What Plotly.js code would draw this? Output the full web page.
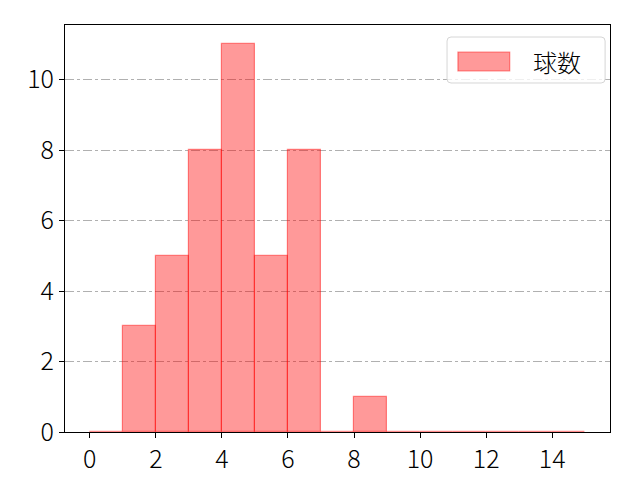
<!DOCTYPE html>
<html><head><meta charset="utf-8">
<script src="https://cdn.plot.ly/plotly-3.0.1.min.js"></script>
<style>body{margin:0}#c{width:640px;height:480px}</style>
</head><body><div id="c"></div>
<script>
const binStarts = [0,1,2,3,4,5,6,7,8,9,10,11,12,13,14];
const counts = [0,3,5,8,11,5,8,0,1,0,0,0,0,0,0];
const seriesName = "球数";
const xTicks = [0,2,4,6,8,10,12,14];
const yTicks = [0,2,4,6,8,10];

const font = "'Noto Sans CJK JP', 'Noto Sans', sans-serif";
const fill = 'rgba(255,0,0,0.4)';
const edge = 'rgba(255,0,0,0.45)';

// legend box geometry (paper coords)
const bx0 = 0.701, bx1 = 0.991, by0 = 0.8575, by1 = 0.9705, rx = 0.0073, ry = 0.0098;
const boxPath = `M${bx0+rx},${by0} L${bx1-rx},${by0} Q${bx1},${by0} ${bx1},${by0+ry} L${bx1},${by1-ry} Q${bx1},${by1} ${bx1-rx},${by1} L${bx0+rx},${by1} Q${bx0},${by1} ${bx0},${by1-ry} L${bx0},${by0+ry} Q${bx0},${by0} ${bx0+rx},${by0} Z`;

Plotly.newPlot('c', [{
  type: 'bar',
  x: binStarts.map(s => s + 0.5),
  y: counts,
  width: 1,
  name: seriesName,
  showlegend: false,
  marker: {color: fill, line: {color: edge, width: 1.2}}
}], {
  width: 640, height: 480,
  margin: {l: 65, r: 30, t: 25, b: 48},
  paper_bgcolor: 'white', plot_bgcolor: 'white',
  font: {family: font, size: 25, color: 'black', weight: 300},
  bargap: 0,
  xaxis: {range: [-0.75, 15.75], tickvals: xTicks, ticks: 'outside', ticklen: 5, tickcolor: 'black',
    tickfont: {size: 25, weight: 300}, showgrid: false, zeroline: false, showline: true, linecolor: 'black', linewidth: 1, mirror: true},
  yaxis: {range: [0, 11.55], tickvals: yTicks, ticks: 'outside', ticklen: 5, tickcolor: 'black',
    tickfont: {size: 25, weight: 300}, showgrid: true, gridcolor: '#b0b0b0', griddash: 'dashdot', gridwidth: 0.8,
    zeroline: false, showline: true, linecolor: 'black', linewidth: 1, mirror: true},
  shapes: [
    {type: 'path', xref: 'paper', yref: 'paper', path: boxPath,
     fillcolor: 'rgba(255,255,255,0.8)', line: {color: '#d6d6d6', width: 1}},
    {type: 'rect', xref: 'paper', yref: 'paper', x0: 0.721, x1: 0.816, y0: 0.887, y1: 0.9337,
     fillcolor: fill, line: {color: edge, width: 1.2}}
  ],
  annotations: [
    {xref: 'paper', yref: 'paper', x: 0.855, y: 0.9115, xanchor: 'left', yanchor: 'middle',
     text: seriesName, showarrow: false, font: {size: 24, family: font, weight: 300}}
  ]
}, {displayModeBar: false});
</script></body></html>
